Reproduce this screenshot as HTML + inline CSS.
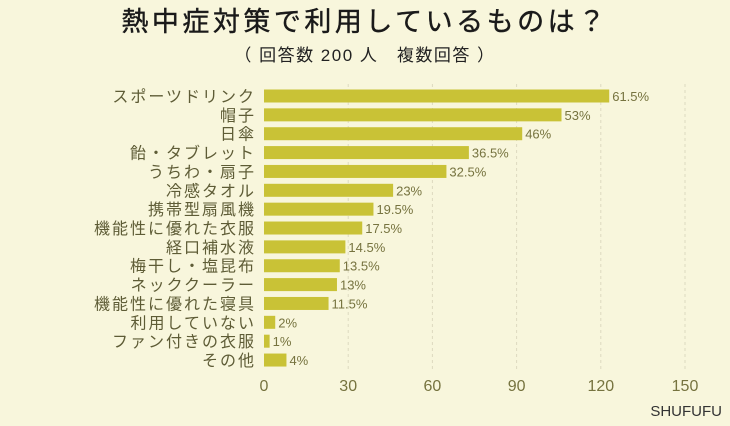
<!DOCTYPE html>
<html><head><meta charset="utf-8"><style>
body{margin:0;background:#f8f6dc;}
svg{display:block;font-family:"Liberation Sans","Noto Sans CJK JP",sans-serif;}
</style></head><body>
<svg id="c" width="730" height="426">
<rect width="730" height="426" fill="#f8f6dc"/>
<text x="365" y="31" text-anchor="middle" font-size="27" letter-spacing="3.5" fill="#1a1a1a" stroke="#1a1a1a" stroke-width="0.4">熱中症対策で利用しているものは？</text>
<text x="365" y="61" text-anchor="middle" font-size="17" letter-spacing="1.5" fill="#222">（ 回答数 200 人　複数回答 ）</text>
<text x="722" y="416" text-anchor="end" font-size="15" fill="#333">SHUFUFU</text>
<g id="grid"></g><g id="bars"></g><g id="labels"></g><g id="ticks"></g>
</svg>
<script>
const categories=["スポーツドリンク","帽子","日傘","飴・タブレット","うちわ・扇子","冷感タオル","携帯型扇風機","機能性に優れた衣服","経口補水液","梅干し・塩昆布","ネッククーラー","機能性に優れた寝具","利用していない","ファン付きの衣服","その他"];
const percents=[61.5,53,46,36.5,32.5,23,19.5,17.5,14.5,13.5,13,11.5,2,1,4];
const respondents=200;
const tickValues=[0,30,60,90,120,150];
const NS="http://www.w3.org/2000/svg";
const x0=264,x1=685,vmax=150;
const xs=v=>x0+(v/vmax)*(x1-x0);
const y0=96,step=18.86;
const ys=i=>y0+i*step;
function mk(t,a){const e=document.createElementNS(NS,t);for(const k in a)e.setAttribute(k,a[k]);return e;}
const grid=document.getElementById('grid'),bars=document.getElementById('bars'),labels=document.getElementById('labels'),ticks=document.getElementById('ticks');
tickValues.forEach(v=>{
 if(v>0){const l=mk('line',{x1:xs(v),x2:xs(v),y1:84,y2:370,stroke:'#ddd9c0','stroke-dasharray':'3,3'});
 
 
 grid.appendChild(l);}
 const t=mk('text',{x:xs(v),y:391,'text-anchor':'middle','font-size':16,fill:'#76733f'});
 t.textContent=v;
 
 
 ticks.appendChild(t);
});
categories.forEach((c,i)=>{
 const val=percents[i]*respondents/100;
 const y=ys(i);
 const r=mk('rect',{x:x0,y:y-6.5,width:xs(val)-x0,height:13,fill:'#c9c236'});
 
 
 bars.appendChild(r);
 const v=mk('text',{x:xs(val)+3,y:y+5,'font-size':13,fill:'#76733f'});
 v.textContent=percents[i]+'%';
 
 
 labels.appendChild(v);
 const l=mk('text',{x:256,y:y+6,'text-anchor':'end','font-size':16,fill:'#5e5c36','letter-spacing':'2'});
 l.textContent=c;
 
 
 labels.appendChild(l);
});
</script>
</body></html>
